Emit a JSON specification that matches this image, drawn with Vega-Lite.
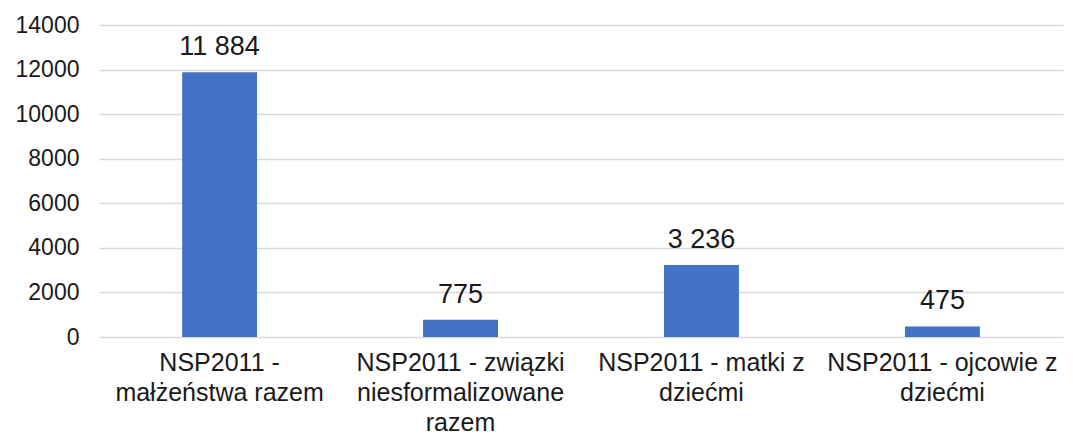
{
  "$schema": "https://vega.github.io/schema/vega-lite/v6.json",
  "width": 964,
  "height": 312,
  "autosize": {"type": "none"},
  "padding": {"left": 99, "top": 25, "right": 10, "bottom": 99},
  "background": "white",
  "config": {
    "view": {"stroke": null},
    "font": "Liberation Sans"
  },
  "data": {
    "values": [
      {"category": "NSP2011 -|małżeństwa razem", "value": 11884, "label": "11 884"},
      {"category": "NSP2011 - związki|niesformalizowane|razem", "value": 775, "label": "775"},
      {"category": "NSP2011 - matki z|dziećmi", "value": 3236, "label": "3 236"},
      {"category": "NSP2011 - ojcowie z|dziećmi", "value": 475, "label": "475"}
    ]
  },
  "encoding": {
    "x": {
      "field": "category",
      "type": "nominal",
      "sort": null,
      "scale": {"paddingInner": 0.689, "paddingOuter": 0.345},
      "axis": {
        "title": null,
        "labelAngle": 0,
        "labelExpr": "split(datum.label, '|')",
        "labelFont": "Liberation Sans",
        "labelFontSize": 25,
        "labelColor": "#1a1a1a",
        "labelLineHeight": 30,
        "labelPadding": 13,
        "labelLimit": 300,
        "ticks": false,
        "domain": false
      }
    },
    "y": {
      "field": "value",
      "type": "quantitative",
      "scale": {"domain": [0, 14000], "nice": false},
      "axis": {
        "title": null,
        "values": [0, 2000, 4000, 6000, 8000, 10000, 12000, 14000],
        "format": "d",
        "labelFont": "Liberation Sans",
        "labelFontSize": 23,
        "labelColor": "#1a1a1a",
        "labelPadding": 20,
        "ticks": false,
        "domain": false,
        "grid": true,
        "gridColor": "#d9d9d9",
        "gridWidth": 1.5
      }
    }
  },
  "layer": [
    {"mark": {"type": "bar", "color": "#4472C4"}},
    {
      "mark": {"type": "text", "baseline": "alphabetic", "dy": -17, "fontSize": 27, "color": "#1a1a1a", "font": "Liberation Sans"},
      "encoding": {"text": {"field": "label"}}
    }
  ]
}
